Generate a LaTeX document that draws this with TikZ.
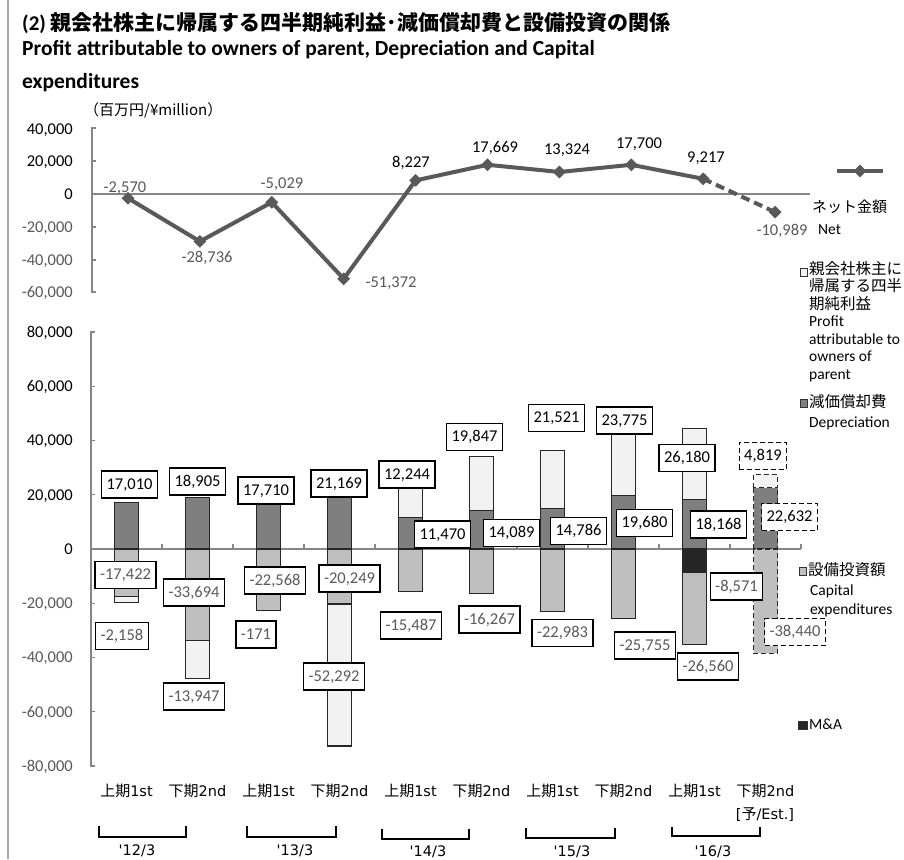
\documentclass[tikz,border=0pt]{standalone}
\usepackage{fontspec}
\setmainfont{Carlito}
\newfontfamily\jp{Noto Sans CJK JP}
\newfontfamily\dv{DejaVu Sans}
\usetikzlibrary{shapes.geometric}
\newcommand\fsz[1]{\fontsize{#1}{#1}\selectfont}
\definecolor{cProf}{HTML}{F2F2F2}
\definecolor{cDep}{HTML}{7F7F7F}
\definecolor{cCap}{HTML}{BFBFBF}
\definecolor{cMA}{HTML}{262626}
\definecolor{cLine}{HTML}{595959}
\definecolor{cAxis}{HTML}{868686}
\definecolor{cNeg}{HTML}{595959}
\definecolor{cBorder}{HTML}{A6A6A6}
\begin{document}
\begin{tikzpicture}[x=1pt,y=-1pt,
  ax/.style={cAxis, line width=1.3pt},
  barS/.style={draw=black!85, line width=1.1pt},
  pbox/.style={draw=black, line width=1.3pt, fill=white, inner xsep=5pt, inner ysep=0pt, minimum height=27pt, text height=11pt, text depth=2pt, font=\fsz{16.5}},
  nbox/.style={pbox, text=cNeg},
  estS/.style={dash pattern=on 5pt off 3pt},
  ylab/.style={anchor=east, inner sep=0pt, text height=10.5pt, text depth=0pt, font=\fsz{16.5}},
  vlab/.style={inner sep=0pt, text height=10.5pt, text depth=0pt, font=\fsz{16.5}},
  mkS/.style={diamond, fill=cLine, minimum width=13pt, minimum height=13pt, inner sep=0pt},
  lineS/.style={cLine, line width=4pt, line join=round},
  legS/.style={anchor=west, inner sep=0pt, text height=11pt, text depth=3pt},
  sqS/.style={draw=black!80, line width=0.8pt},
  xlab/.style={inner sep=0pt, text height=11pt, text depth=3pt, font=\fsz{15}},
  brS/.style={black, line width=1.4pt}
]
\useasboundingbox (0,0) rectangle (904,859);
\fill[white] (0,0) rectangle (904,859);
\draw[cBorder, line width=1.5pt] (8,0) -- (8,859);

% ---------- title ----------
\node[anchor=base west, inner sep=0pt] (t1) at (22,31) {{\bfseries\fsz{21}(2) }{\jp\bfseries\fsz{21}親会社株主に帰属する四半期純利益･減価償却費と設備投資の関係}};
\node[anchor=base west, inner sep=0pt] (t2) at (22,56) {\bfseries\fsz{21.5}Profit attributable to owners of parent, Depreciation and Capital};
\node[anchor=base west, inner sep=0pt] (t3) at (22,88) {\bfseries\fsz{21.5}expenditures};
\node[anchor=west, inner sep=0pt] (unit) at (84,110) {\jp\fsz{15}（百万円/¥million）};

% ---------- top chart axes ----------
\draw[ax] (92,194) -- (810,194);
\draw[ax] (96,128) -- (92,128) -- (92,292) -- (96,292);
\foreach \yy in {161,227,260} \draw[ax] (92,\yy) -- (96,\yy);
\node[ylab] (ta1) at (73,129) {40,000};
\node[ylab] (ta2) at (73,161) {20,000};
\node[ylab] (ta3) at (73,194) {0};
\node[ylab, text=cNeg] (ta4) at (73,227) {-20,000};
\node[ylab, text=cNeg] (ta5) at (73,260) {-40,000};
\node[ylab, text=cNeg] (ta6) at (73,292) {-60,000};

% ---------- net line ----------
\coordinate (c1) at (128,198.2);
\coordinate (c2) at (199.9,241.4);
\coordinate (c3) at (271.8,202.3);
\coordinate (c4) at (343.7,278.8);
\coordinate (c5) at (415.6,180.4);
\coordinate (c6) at (487.5,164.8);
\coordinate (c7) at (559.4,172.0);
\coordinate (c8) at (631.3,164.8);
\coordinate (c9) at (703.2,178.8);
\coordinate (c10) at (775.1,212.1);
\draw[lineS] (c1) -- (c2) -- (c3) -- (c4) -- (c5) -- (c6) -- (c7) -- (c8) -- (c9);
\draw[lineS, dash pattern=on 9pt off 5pt] (c9) -- (c10);
\foreach \k in {1,...,10} \node[mkS] (m\k) at (c\k) {};
\node[vlab, text=cNeg] (v1) at (125,187) {-2,570};
\node[vlab, text=cNeg] (v2) at (207,257) {-28,736};
\node[vlab, text=cNeg] (v3) at (282,183) {-5,029};
\node[vlab, text=cNeg] (v4) at (391,282) {-51,372};
\node[vlab] (v5) at (411,162) {8,227};
\node[vlab] (v6) at (495,147) {17,669};
\node[vlab] (v7) at (567,149) {13,324};
\node[vlab] (v8) at (639,143) {17,700};
\node[vlab] (v9) at (706,157) {9,217};
\node[vlab, text=cNeg] (v10) at (782,230) {-10,989};

% legend for line
\coordinate (lgA) at (837,171);
\coordinate (lgB) at (883,171);
\draw[lineS] (lgA) -- (lgB);
\node[mkS] (lgM) at (860,171) {};
\node[legS] (lgN1) at (812,208) {\jp\fsz{15}ネット金額};
\node[legS] (lgN2) at (818,230) {\fsz{15.5}Net};

% ---------- bottom chart axes ----------
\draw[ax] (91,549) -- (801,549);
\foreach \xx in {162,233,304,375,446,517,588,659,730,801} \draw[ax] (\xx,549) -- (\xx,544);
\draw[ax] (95,332) -- (91,332) -- (91,766) -- (95,766);
\foreach \yy in {386.3,440.5,494.8,603.3,657.5,711.8} \draw[ax] (91,\yy) -- (95,\yy);
\node[ylab] (ba1) at (73,332) {80,000};
\node[ylab] (ba2) at (73,386.3) {60,000};
\node[ylab] (ba3) at (73,440.5) {40,000};
\node[ylab] (ba4) at (73,494.8) {20,000};
\node[ylab] (ba5) at (73,549) {0};
\node[ylab, text=cNeg] (ba6) at (73,603.3) {-20,000};
\node[ylab, text=cNeg] (ba7) at (73,657.5) {-40,000};
\node[ylab, text=cNeg] (ba8) at (73,711.8) {-60,000};
\node[ylab, text=cNeg] (ba9) at (73,766) {-80,000};

% ---------- bars ----------
\begin{scope}[shift={(0,549)}, y=2.715pt]
  \draw[barS, fill=cDep] (114.5,0) rectangle (138.5,17.010);
  \draw[barS, fill=cCap] (114.5,0) rectangle (138.5,-17.422);
  \draw[barS, fill=cProf] (114.5,-17.422) rectangle (138.5,-19.580);
  \draw[barS, fill=cDep] (185.5,0) rectangle (209.5,18.905);
  \draw[barS, fill=cCap] (185.5,0) rectangle (209.5,-33.694);
  \draw[barS, fill=cProf] (185.5,-33.694) rectangle (209.5,-47.641);
  \draw[barS, fill=cDep] (256.5,0) rectangle (280.5,17.710);
  \draw[barS, fill=cCap] (256.5,0) rectangle (280.5,-22.568);
  \draw[barS, fill=cProf] (256.5,-22.568) rectangle (280.5,-22.739);
  \draw[barS, fill=cDep] (327.5,0) rectangle (351.5,18.95);
  \draw[barS, fill=cCap] (327.5,0) rectangle (351.5,-20.249);
  \draw[barS, fill=cProf] (327.5,-20.249) rectangle (351.5,-72.541);
  \draw[barS, fill=cDep] (398.5,0) rectangle (422.5,11.470);
  \draw[barS, fill=cProf] (398.5,11.470) rectangle (422.5,23.714);
  \draw[barS, fill=cCap] (398.5,0) rectangle (422.5,-15.487);
  \draw[barS, fill=cDep] (469.5,0) rectangle (493.5,14.089);
  \draw[barS, fill=cProf] (469.5,14.089) rectangle (493.5,33.936);
  \draw[barS, fill=cCap] (469.5,0) rectangle (493.5,-16.267);
  \draw[barS, fill=cDep] (540.5,0) rectangle (564.5,14.786);
  \draw[barS, fill=cProf] (540.5,14.786) rectangle (564.5,36.307);
  \draw[barS, fill=cCap] (540.5,0) rectangle (564.5,-22.983);
  \draw[barS, fill=cDep] (611.5,0) rectangle (635.5,19.680);
  \draw[barS, fill=cProf] (611.5,19.680) rectangle (635.5,43.455);
  \draw[barS, fill=cCap] (611.5,0) rectangle (635.5,-25.755);
  \draw[barS, fill=cDep] (682.5,0) rectangle (706.5,18.168);
  \draw[barS, fill=cProf] (682.5,18.168) rectangle (706.5,44.348);
  \draw[barS, fill=cMA] (682.5,0) rectangle (706.5,-8.571);
  \draw[barS, fill=cCap] (682.5,-8.571) rectangle (706.5,-35.131);
  \draw[barS, estS, fill=cDep] (753.5,0) rectangle (777.5,22.632);
  \draw[barS, estS, fill=cProf] (753.5,22.632) rectangle (777.5,27.451);
  \draw[barS, estS, fill=cCap] (753.5,0) rectangle (777.5,-38.440);
\end{scope}

% ---------- data labels ----------
\node[pbox] (d1) at (129.5,484.5) {17,010};
\node[pbox] (d2) at (197.5,481.5) {18,905};
\node[pbox] (d3) at (266,490.5) {17,710};
\node[pbox] (d4) at (339,483.5) {21,169};
\node[pbox] (d5) at (407,474.5) {12,244};
\node[pbox] (d6) at (442.5,534.5) {11,470};
\node[pbox] (d7) at (474.5,437) {19,847};
\node[pbox] (d8) at (511.5,533) {14,089};
\node[pbox] (d9) at (556.5,418) {21,521};
\node[pbox] (d10) at (578.5,531) {14,786};
\node[pbox] (d11) at (624.5,420.5) {23,775};
\node[pbox] (d12) at (644.5,523) {19,680};
\node[pbox] (d13) at (687,458) {26,180};
\node[pbox] (d14) at (718.5,524.5) {18,168};
\node[pbox, estS] (d15) at (763,456) {4,819};
\node[pbox, estS] (d16) at (789.5,517) {22,632};
\node[nbox] (n1) at (125.5,575) {-17,422};
\node[nbox] (n2) at (194,592.5) {-33,694};
\node[nbox] (n3) at (275,580.5) {-22,568};
\node[nbox] (n4) at (349.5,578.5) {-20,249};
\node[nbox] (n5) at (122,636) {-2,158};
\node[nbox] (n6) at (194,696.5) {-13,947};
\node[nbox] (n7) at (256,634.5) {-171};
\node[nbox] (n8) at (334,676.5) {-52,292};
\node[nbox] (n9) at (411,625.5) {-15,487};
\node[nbox] (n10) at (489.5,619.5) {-16,267};
\node[nbox] (n11) at (562.5,633) {-22,983};
\node[nbox] (n12) at (645,645.5) {-25,755};
\node[nbox] (n13) at (708,666.5) {-26,560};
\node[nbox] (n14) at (736.5,586.5) {-8,571};
\node[nbox, estS] (n15) at (795,632) {-38,440};

% ---------- legend ----------
\draw[sqS, fill=cProf] (800,268) rectangle (807,276);
\node[legS] (lp1) at (809,270) {\jp\fsz{15.5}親会社株主に};
\node[legS] (lp2) at (809,287.5) {\jp\fsz{15.5}帰属する四半};
\node[legS] (lp3) at (809,305) {\jp\fsz{15.5}期純利益};
\node[legS] (lp4) at (809,322.5) {\fsz{15.5}Profit};
\node[legS] (lp5) at (809,340) {\fsz{15.5}attributable to};
\node[legS] (lp6) at (809,357.5) {\fsz{15.5}owners of};
\node[legS] (lp7) at (809,375) {\fsz{15.5}parent};
\draw[sqS, fill=cDep] (800,399) rectangle (807,407);
\node[legS] (ld1) at (809,403) {\jp\fsz{15.5}減価償却費};
\node[legS] (ld2) at (809,423) {\fsz{15.5}Depreciation};
\draw[sqS, fill=cCap] (799,567) rectangle (806,575);
\node[legS] (lc1) at (808,571) {\jp\fsz{15.5}設備投資額};
\node[legS] (lc2) at (810,591) {\fsz{15.5}Capital};
\node[legS] (lc3) at (810,610) {\fsz{15.5}expenditures};
\draw[sqS, fill=cMA] (798,721) rectangle (807,729);
\node[legS] (lm1) at (809,725) {\fsz{15.5}M\&A};

% ---------- x labels ----------
\foreach \k/\xx/\t in {1/126.5/1st,3/268.5/1st,5/410.5/1st,7/552.5/1st,9/694.5/1st}
  \node[xlab] (x\k) at (\xx,792) {{\jp 上期}{\dv\fsz{14.5}\t}};
\foreach \k/\xx/\t in {2/197.5/2nd,4/339.5/2nd,6/481.5/2nd,8/623.5/2nd,10/765.5/2nd}
  \node[xlab] (x\k) at (\xx,792) {{\jp 下期}{\dv\fsz{14.5}\t}};
\node[xlab] (xe) at (765,815) {{\dv\fsz{14.5}[}{\jp 予}{\dv\fsz{14.5}/Est.]}};

% ---------- year brackets ----------
\draw[brS] (99,826) -- (99,837) -- (186,837) -- (186,826);
\draw[brS] (247,826) -- (247,837) -- (336,837) -- (336,826);
\draw[brS, line width=2pt] (382,829) -- (382,839) -- (469,839) -- (469,829);
\draw[brS] (526,828) -- (526,838) -- (615,838) -- (615,828);
\draw[brS, line width=2pt] (672,827) -- (672,836) -- (760,836) -- (760,827);
\node[xlab] (y1) at (137,851) {\dv\fsz{14.5}'12/3};
\node[xlab] (y2) at (295,851) {\dv\fsz{14.5}'13/3};
\node[xlab] (y3) at (428,852) {\dv\fsz{14.5}'14/3};
\node[xlab] (y4) at (572,852) {\dv\fsz{14.5}'15/3};
\node[xlab] (y5) at (713,852) {\dv\fsz{14.5}'16/3};
\end{tikzpicture}
\end{document}
